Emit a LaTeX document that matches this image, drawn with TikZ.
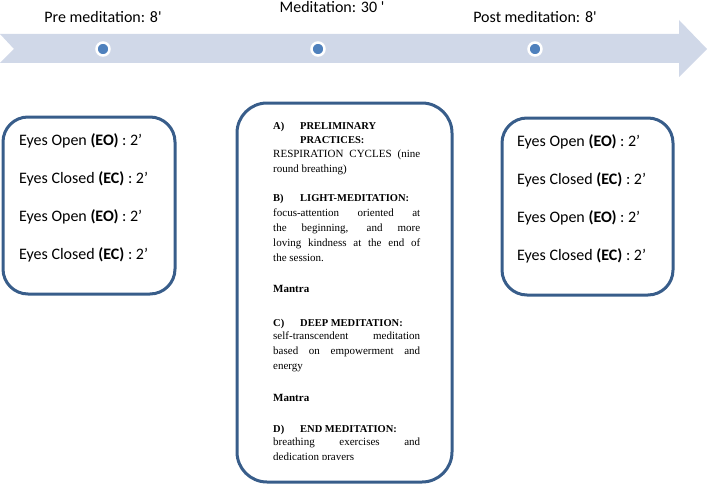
\documentclass[tikz,border=0pt]{standalone}
\usepackage{fontspec}
\setmainfont{Carlito}[Ligatures=TeXOff]
\newfontfamily\bodyserif{Liberation Serif}
\usetikzlibrary{positioning}

\definecolor{bandblue}{RGB}{208,216,232}
\definecolor{dotblue}{RGB}{79,129,189}
\definecolor{boxblue}{RGB}{56,93,138}

% heading of one stage in the meditation box
\newcommand{\stagehead}[2]{{\fontsize{10.5}{15}\selectfont\bfseries\makebox[27pt][l]{#1}#2}}

\begin{document}
\begin{tikzpicture}[x=1pt, y=-1pt, node distance=23pt,
                    phase dot/.style={circle,fill=dotblue,draw=white,line width=2.5pt,minimum size=13pt,inner sep=0pt},
                    phase label/.style={font=\fontsize{16}{18}\selectfont,inner sep=0pt,text height=11pt,text depth=3.5pt},
                    eyes box/.style={draw=boxblue,line width=3pt,rounded corners=25pt,minimum width=172pt,minimum height=177pt,inner sep=0pt},
                    eyes line/.style={font=\fontsize{16}{18}\selectfont,inner sep=0pt,text height=11pt,text depth=3.5pt,anchor=west}]

  \useasboundingbox (0,0) rectangle (708,484);

  % timeline band
  \fill[bandblue] (0,34) -- (679,34) -- (679,20) -- (707,49) -- (679,77) -- (679,63) -- (0,63) -- (14,49) -- cycle;

  \node[phase dot] (pre) at (103,49) {};
  \node[phase dot] (med) at (318,49) {};
  \node[phase dot] (post) at (535,49) {};

  \node[phase label] (prelabel) [above=15.5pt of pre] {Pre meditation: 8'};
  \node[phase label] (medlabel) [above=25.5pt of med, xshift=14pt] {Meditation: 30 '};
  \node[phase label] (postlabel) [above=15.5pt of post] {Post meditation: 8'};

  % pre meditation box
  \node[eyes box] (prebox) at (89,205.5) {};
  \node[eyes line] (pre1) at (19,142) {Eyes Open \textbf{(EO)} : 2’};
  \node[eyes line] (pre2) [below=of pre1.south west, anchor=north west] {Eyes Closed \textbf{(EC)} : 2’};
  \node[eyes line] (pre3) [below=of pre2.south west, anchor=north west] {Eyes Open \textbf{(EO)} : 2’};
  \node[eyes line] (pre4) [below=of pre3.south west, anchor=north west] {Eyes Closed \textbf{(EC)} : 2’};

  % post meditation box
  \node[eyes box,minimum width=171pt] (postbox) at (587.5,206.5) {};
  \node[eyes line] (post1) at (517,143) {Eyes Open \textbf{(EO)} : 2’};
  \node[eyes line] (post2) [below=of post1.south west, anchor=north west] {Eyes Closed \textbf{(EC)} : 2’};
  \node[eyes line] (post3) [below=of post2.south west, anchor=north west] {Eyes Open \textbf{(EO)} : 2’};
  \node[eyes line] (post4) [below=of post3.south west, anchor=north west] {Eyes Closed \textbf{(EC)} : 2’};

  % meditation box
  \node[draw=boxblue,line width=3pt,rounded corners=30pt,minimum width=215pt,minimum height=379pt] (medbox) at (344.5,292.5) {};
  \begin{scope}
    \clip (240,100) rectangle (452,459.5);
    \node[anchor=north west,inner sep=0pt,text width=147pt,align=justify,
          font=\bodyserif\fontsize{11}{15}\selectfont] (medtext) at (273,122.5) {%
      \stagehead{A)}{PRELIMINARY}\\[-1pt]
      \stagehead{}{PRACTICES:}\\[-1pt]
      RESPIRATION CYCLES (nine\linebreak
      round breathing)\\[14pt]
      \stagehead{B)}{LIGHT-MEDITATION:}\\
      focus-attention oriented at\linebreak
      the beginning, and more\linebreak
      loving kindness at the end of\linebreak
      the session.\\[16pt]
      \textbf{Mantra}\\[19pt]
      \stagehead{C)}{DEEP MEDITATION:}\\[-2pt]
      self-transcendent meditation\linebreak
      based on empowerment and\linebreak
      energy\\[17pt]
      \textbf{Mantra}\\[16pt]
      \stagehead{D)}{END MEDITATION:}\\[-2pt]
      breathing exercises and\linebreak
      dedication prayers};
  \end{scope}

\end{tikzpicture}
\end{document}
